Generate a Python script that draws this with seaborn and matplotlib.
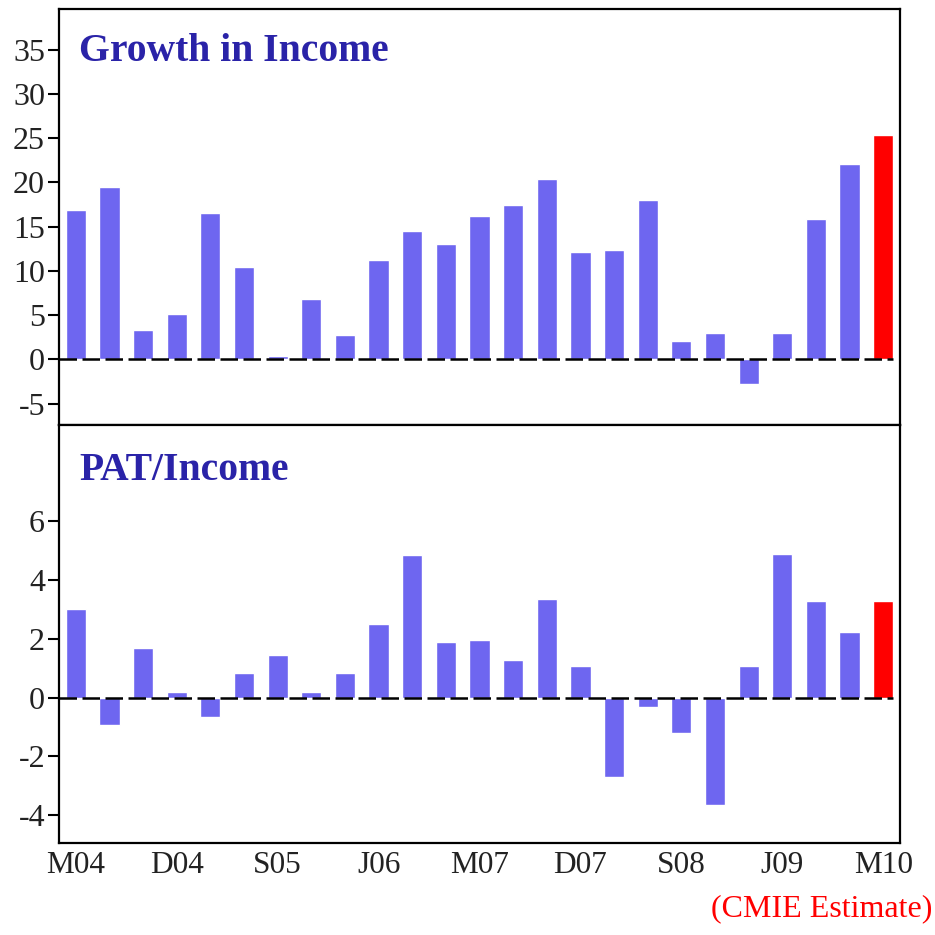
import numpy as np
import pandas as pd
import matplotlib
matplotlib.use("Agg")
import matplotlib.pyplot as plt
import seaborn as sns

# quarterly periods, March 2004 to March 2010
periods = ['M04', 'J04', 'S04', 'D04', 'M05', 'J05', 'S05', 'D05',
           'M06', 'J06', 'S06', 'D06', 'M07', 'J07', 'S07', 'D07',
           'M08', 'J08', 'S08', 'D08', 'M09', 'J09', 'S09', 'D09', 'M10']

growth_income = [16.9, 19.5, 3.3, 5.1, 16.5, 10.4, 0.4, 6.8, 2.75, 11.2,
                 14.5, 13.0, 16.2, 17.4, 20.4, 12.1, 12.4, 18.0, 2.1, 3.0,
                 -2.8, 3.0, 15.9, 22.1, 25.4]

pat_income = [3.02, -0.92, 1.70, 0.19, -0.65, 0.82, 1.44, 0.19, 0.82, 2.50,
              4.87, 1.89, 1.97, 1.27, 3.37, 1.09, -2.69, -0.32, -1.19, -3.66,
              1.09, 4.88, 3.29, 2.24, 3.29]

# last quarter is an estimate
is_estimate = [False] * (len(periods) - 1) + [True]

blue = '#6e66f0'
red = '#ff0000'
title_color = '#2a23a8'
colors = [red if e else blue for e in is_estimate]

sns.set_style("white")
plt.rcParams['font.family'] = ['Liberation Serif', 'DejaVu Serif']

fig = plt.figure(figsize=(9.35, 9.35), dpi=100)
ax_top = fig.add_axes([0.0631, 0.5455, 0.8995, 0.4449])
ax_bot = fig.add_axes([0.0631, 0.0984, 0.8995, 0.4471])

panels = [
    (ax_top, growth_income, 'Growth in Income', (-7.4, 39.6), np.arange(-5, 36, 5), 0.876),
    (ax_bot, pat_income, 'PAT/Income', (-4.95, 9.28), np.arange(-4, 7, 2), 0.869),
]

for ax, values, title, ylim, yticks, ty in panels:
    df = pd.DataFrame({'period': periods, 'value': values})
    sns.barplot(data=df, x='period', y='value', hue='period', palette=colors,
                legend=False, width=0.6, saturation=1, ax=ax)
    ax.axhline(0, xmin=0, xmax=0.992, color='black', lw=1.8,
               linestyle=(0, (7, 2.2)), zorder=5)
    ax.set_xlim(-0.5, len(periods) - 0.5)
    ax.set_ylim(*ylim)
    ax.set_yticks(yticks)
    ax.set_yticklabels([str(v) for v in yticks])
    ax.set_xlabel('')
    ax.set_ylabel('')
    ax.tick_params(axis='y', left=True, direction='out', length=8, width=1.5,
                   labelsize=23, colors='black', labelcolor='#222222', pad=2)
    for s in ax.spines.values():
        s.set_color('black')
        s.set_linewidth(1.6)
    ax.text(0.024, ty, title, transform=ax.transAxes, fontsize=28.5,
            fontweight='bold', color=title_color, va='baseline', ha='left')

ax_top.set_xticks([])
ax_bot.set_xticks(range(0, len(periods), 3))
ax_bot.set_xticklabels(periods[::3])
ax_bot.tick_params(axis='x', bottom=False, length=0, labelsize=22.5,
                   labelcolor='#222222', pad=6)

fig.text(0.997, 0.0125, '(CMIE Estimate)', color=red, fontsize=23,
         ha='right', va='bottom')

fig.savefig('out.png', dpi=100)
